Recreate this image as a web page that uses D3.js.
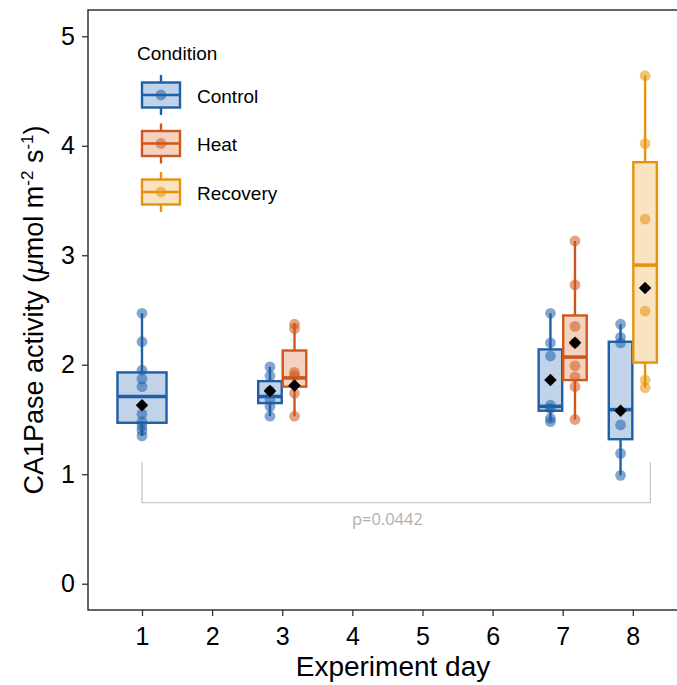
<!DOCTYPE html>
<html>
<head>
<meta charset="utf-8">
<script src="https://cdn.jsdelivr.net/npm/d3@7"></script>
<style>
  body { margin: 0; background: #fff; }
  text { font-family: "Liberation Sans", Arial, Helvetica, sans-serif; }
</style>
</head>
<body>
<div id="chart"></div>
<script>
// one entry per box: day, condition, raw points and summary stats
const groupDay = [1, 3, 3, 7, 7, 8, 8];
const groupCond = ["Control", "Control", "Heat", "Control", "Heat", "Control", "Recovery"];
const groupPoints = [
    [2.47, 2.21, 1.95, 1.87, 1.80, 1.55, 1.48, 1.44, 1.40, 1.35],
    [1.98, 1.90, 1.76, 1.68, 1.62, 1.53],
    [2.37, 2.33, 1.93, 1.90, 1.74, 1.53],
    [2.47, 2.20, 2.08, 1.63, 1.60, 1.51, 1.48],
    [3.13, 2.73, 2.35, 2.20, 1.99, 1.89, 1.80, 1.50],
    [2.37, 2.25, 2.20, 1.45, 1.19, 0.99],
    [4.64, 4.02, 3.33, 2.49, 1.86, 1.79]
];
const groupQ1 = [1.47, 1.65, 1.80, 1.58, 1.86, 1.32, 2.02];
const groupMedian = [1.71, 1.71, 1.88, 1.62, 2.07, 1.59, 2.91];
const groupQ3 = [1.93, 1.85, 2.13, 2.14, 2.45, 2.21, 3.85];
const groupLow = [1.35, 1.53, 1.53, 1.48, 1.50, 0.99, 1.79];
const groupHigh = [2.47, 1.98, 2.38, 2.47, 3.13, 2.37, 4.64];
const groupMean = [1.63, 1.76, 1.81, 1.86, 2.20, 1.58, 2.70];

const conditions = ["Control", "Heat", "Recovery"];
const strokeColors = ["#1f5fa8", "#cf561c", "#e5930f"];
const fillColors = ["#c0d3e8", "#f3d2c0", "#f9e3c0"];

const xTicks = [1, 2, 3, 4, 5, 6, 7, 8];
const yTicks = [0, 1, 2, 3, 4, 5];

// significance bracket between day 1 and day 8
const bracketFrom = 1, bracketTo = 8.25, bracketTop = 1.11, bracketBottom = 0.74;
const bracketLabel = "p=0.0442";

const W = 677, H = 685;
const panel = {left: 88, top: 10, right: 677, bottom: 610};

const x = d3.scaleLinear().domain([0.23, 8.63]).range([panel.left, panel.right]);
const y = d3.scaleLinear().domain([-0.24, 5.24]).range([panel.bottom, panel.top]);
const color = d3.scaleOrdinal().domain(conditions).range(strokeColors);
const fill = d3.scaleOrdinal().domain(conditions).range(fillColors);

const svg = d3.select("#chart").append("svg")
    .attr("width", W).attr("height", H);

// build groups with dodge positions
const groups = groupDay.map((day, i) => ({
    day, cond: groupCond[i], pts: groupPoints[i],
    q1: groupQ1[i], med: groupMedian[i], q3: groupQ3[i],
    lo: groupLow[i], hi: groupHigh[i], mean: groupMean[i]
}));
const unit = x(2) - x(1);
groups.forEach(g => {
    const sameDay = groups.filter(o => o.day === g.day);
    const n = sameDay.length, k = sameDay.indexOf(g);
    const slot = 0.7 / n;
    g.cx = x(g.day) + (-0.35 + slot * (k + 0.5)) * unit;
    g.w = slot * unit - (n > 1 ? 1 : 0);
});

// axes
const xAxis = svg.append("g")
    .attr("transform", `translate(0,${panel.bottom})`)
    .call(d3.axisBottom(x).tickValues(xTicks).tickSize(6).tickPadding(11).tickFormat(d3.format("d")));
const yAxis = svg.append("g")
    .attr("transform", `translate(${panel.left},0)`)
    .call(d3.axisLeft(y).tickValues(yTicks).tickSize(6).tickPadding(7).tickFormat(d3.format("d")));
[xAxis, yAxis].forEach(a => {
    a.select(".domain").remove();
    a.selectAll(".tick line").attr("stroke", "#333").attr("stroke-width", 1.3);
    a.selectAll(".tick text").attr("fill", "#000").style("font-size", "25px");
});

// panel border (top, left, bottom)
svg.append("path")
    .attr("d", `M${panel.right},${panel.top}H${panel.left}V${panel.bottom}H${panel.right}`)
    .attr("fill", "none").attr("stroke", "#333").attr("stroke-width", 1.5);

// bracket
svg.append("path")
    .attr("d", `M${x(bracketFrom)},${y(bracketTop)}V${y(bracketBottom)}H${x(bracketTo)}V${y(bracketTop)}`)
    .attr("fill", "none").attr("stroke", "#c8c8c8").attr("stroke-width", 1.3);
svg.append("text")
    .attr("x", x(4.5)).attr("y", y(bracketBottom) + 22)
    .attr("text-anchor", "middle")
    .style("font-family", "'Open Sans', sans-serif")
    .style("font-size", "16.5px").attr("fill", "#b0b0b0")
    .text(bracketLabel);

// boxes
const box = svg.append("g").selectAll("g").data(groups).enter().append("g");
box.append("line")
    .attr("x1", d => d.cx).attr("x2", d => d.cx)
    .attr("y1", d => y(d.hi)).attr("y2", d => y(d.q3))
    .attr("stroke", d => color(d.cond)).attr("stroke-width", 2.4);
box.append("line")
    .attr("x1", d => d.cx).attr("x2", d => d.cx)
    .attr("y1", d => y(d.q1)).attr("y2", d => y(d.lo))
    .attr("stroke", d => color(d.cond)).attr("stroke-width", 2.4);
box.append("rect")
    .attr("x", d => d.cx - d.w / 2).attr("width", d => d.w)
    .attr("y", d => y(d.q3)).attr("height", d => y(d.q1) - y(d.q3))
    .attr("fill", d => fill(d.cond))
    .attr("stroke", d => color(d.cond)).attr("stroke-width", 2.4);
box.append("line")
    .attr("x1", d => d.cx - d.w / 2).attr("x2", d => d.cx + d.w / 2)
    .attr("y1", d => y(d.med)).attr("y2", d => y(d.med))
    .attr("stroke", d => color(d.cond)).attr("stroke-width", 3.6);

// points
box.selectAll("circle")
    .data(d => d.pts.map(v => ({v, cx: d.cx, cond: d.cond})))
    .enter().append("circle")
    .attr("cx", d => d.cx).attr("cy", d => y(d.v)).attr("r", 5.4)
    .attr("fill", d => color(d.cond)).attr("fill-opacity", 0.55);

// means
box.append("path")
    .attr("d", d3.symbol(d3.symbolSquare, 78))
    .attr("transform", d => `translate(${d.cx},${y(d.mean)}) rotate(45)`)
    .attr("fill", "#000");

// axis titles
svg.append("text")
    .attr("x", 393).attr("y", 676)
    .attr("text-anchor", "middle").style("font-size", "28px").attr("fill", "#000")
    .text("Experiment day");

const yt = svg.append("text")
    .attr("transform", `translate(43,${(panel.top + panel.bottom) / 2}) rotate(-90)`)
    .attr("text-anchor", "middle").style("font-size", "27px").attr("fill", "#000");
yt.append("tspan").text("CA1Pase activity (");
yt.append("tspan").style("font-style", "italic").text("μ");
yt.append("tspan").text("mol m");
yt.append("tspan").attr("dy", -10).style("font-size", "17px").text("-2");
yt.append("tspan").attr("dy", 10).text(" s");
yt.append("tspan").attr("dy", -10).style("font-size", "17px").text("-1");
yt.append("tspan").attr("dy", 10).text(")");

// legend
const legend = svg.append("g");
legend.append("text")
    .attr("x", 137).attr("y", 60)
    .style("font-size", "19px").attr("fill", "#000")
    .text("Condition");
const keys = legend.selectAll("g.key").data(conditions).enter().append("g")
    .attr("transform", (d, i) => `translate(161,${95 + i * 48.5})`);
keys.append("line").attr("y1", -20).attr("y2", 20)
    .attr("stroke", d => color(d)).attr("stroke-width", 2.4);
keys.append("rect")
    .attr("x", -19).attr("y", -12.5).attr("width", 38).attr("height", 25)
    .attr("fill", d => fill(d)).attr("stroke", d => color(d)).attr("stroke-width", 2.4);
keys.append("line").attr("x1", -19).attr("x2", 19)
    .attr("stroke", d => color(d)).attr("stroke-width", 2.4);
keys.append("circle").attr("r", 5.4)
    .attr("fill", d => color(d)).attr("fill-opacity", 0.55);
keys.append("text")
    .attr("x", 36).attr("y", 7.5)
    .style("font-size", "19px").attr("fill", "#000")
    .text(d => d);
</script>
</body>
</html>
